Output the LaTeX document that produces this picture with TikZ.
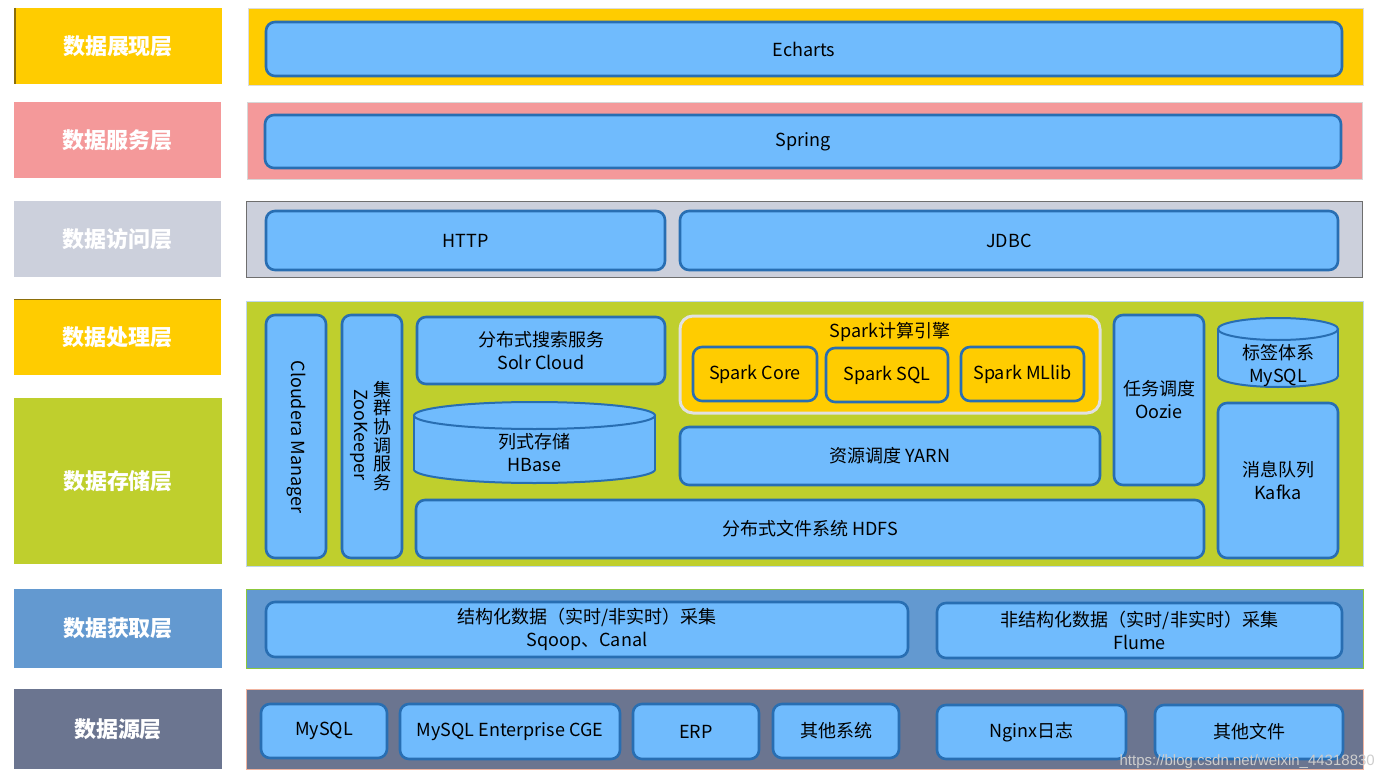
\documentclass[tikz,border=0pt]{standalone}
\usepackage{fontspec}
\setmainfont{Noto Sans CJK SC}
\newfontfamily\wmfont{Liberation Sans}
\usetikzlibrary{fit}
\definecolor{cyellow}{RGB}{255,204,0}
\definecolor{cpink}{RGB}{244,153,154}
\definecolor{cgray}{RGB}{204,208,220}
\definecolor{cgreen}{RGB}{191,207,45}
\definecolor{cblue}{RGB}{99,153,208}
\definecolor{cslate}{RGB}{107,117,144}
\definecolor{boxfill}{RGB}{112,187,253}
\definecolor{boxline}{RGB}{40,110,178}
\definecolor{sparkline}{RGB}{225,225,225}
\definecolor{wmgray}{RGB}{205,205,205}
\newcommand\blkbox[4][]{%
  \node[blk,#1,fit={#3}] (#2) {};
  \node[txt] (#2-t) at (#2.center) {#4};}
\newcommand\lyrbox[4]{%
  \node[inner sep=0pt, fill=#2, fit={#3}] (#1) {};
  \node[layerlbl] (#1-t) at (#1.center) {#4};}
\begin{document}
\begin{tikzpicture}[x=1pt,y=-1pt,
  layerlbl/.style={inner sep=0pt, text=white, font=\fontsize{22}{26}\selectfont\bfseries},
  pnl/.style={inner sep=0pt, line width=1pt},
  blk/.style={draw=boxline, fill=boxfill, line width=2.6pt, rounded corners=9pt, inner sep=0pt},
  txt/.style={inner sep=0pt, align=center, font=\fontsize{18}{23}\selectfont},
  cyl/.style={draw=boxline, fill=boxfill, line width=2pt}]
\useasboundingbox (0,0) rectangle (1377,781);
\fill[white] (0,0) rectangle (1377,781);

% left layer labels
\lyrbox{l1}{cyellow}{(14,8) (222,84)}{数据展现层}
\draw[line width=1.2pt, draw={rgb,255:red,140;green,110;blue,10}] (15,8) -- (15,84);
\lyrbox{l2}{cpink}{(14,102) (221,178)}{数据服务层}
\lyrbox{l3}{cgray}{(14,201) (221,277)}{数据访问层}
\lyrbox{l4}{cyellow}{(14,299) (221,375)}{数据处理层}
\draw[line width=1.2pt, draw={rgb,255:red,140;green,110;blue,10}] (14,299.5) -- (221,299.5);
\lyrbox{l5}{cgreen}{(14,398) (222,564)}{数据存储层}
\lyrbox{l6}{cblue}{(14,589) (222,668)}{数据获取层}
\lyrbox{l7}{cslate}{(14,689) (222,769)}{数据源层}

% right panels
\node[pnl, fill=cyellow, draw={rgb,255:red,220;green,220;blue,220}, fit={(248,8.5) (1363,85.5)}] (p1) {};
\node[pnl, fill=cpink, draw={rgb,255:red,215;green,215;blue,215}, fit={(247,103) (1362,180)}] (p2) {};
\node[pnl, fill=cgray, draw={rgb,255:red,110;green,110;blue,110}, fit={(246,201.5) (1362,277.5)}] (p3) {};
\node[pnl, fill=cgreen, draw={rgb,255:red,190;green,215;blue,235}, fit={(246,301) (1363,566.5)}] (p4) {};
\node[pnl, fill=cblue, draw={rgb,255:red,140;green,200;blue,60}, fit={(246,589.5) (1363,668.5)}] (p5) {};
\node[pnl, fill=cslate, draw={rgb,255:red,240;green,180;blue,160}, fit={(246,689.5) (1363,769.5)}] (p6) {};

% row 1-3
\blkbox{echarts}{(266,22) (1342,76)}{Echarts}
\blkbox{spring}{(265,115) (1341,168)}{Spring}
\blkbox{http}{(266,211) (665,270)}{HTTP}
\blkbox{jdbc}{(680,211) (1338,270)}{JDBC}

% row 4
\node[blk, fit={(266,315) (326,558)}] (cloudera) {};
\node[txt, rotate=-90] (clouderat) at (296,437) {Cloudera Manager};
\node[blk, fit={(342,315) (402,558)}] (zk) {};
\node[txt, rotate=-90] (zkt) at (359,435) {ZooKeeper};
\node[txt, font=\fontsize{18}{18.7}\selectfont] (zkc) at (382,436) {集\\群\\协\\调\\服\\务};
\blkbox{solr}{(417,317) (665,384)}{分布式搜索服务\\Solr Cloud}

% HBase cylinder
\draw[cyl] (534.5,469.5) ellipse[x radius=120.5pt, y radius=13.5pt];
\fill[boxfill] (414,415.5) rectangle (655,469.5);
\draw[boxline, line width=2pt] (414,415.5) -- (414,469.5) (655,415.5) -- (655,469.5);
\draw[cyl] (534.5,415.5) ellipse[x radius=120.5pt, y radius=13.5pt];
\node[txt] (hbase) at (534.5,453) {列式存储\\HBase};

\blkbox{hdfs}{(416,500) (1204,558)}{分布式文件系统 HDFS}

% Spark group
\node[inner sep=0pt, fill=cyellow, draw=sparkline, line width=3pt, rounded corners=13pt, fit={(680,316) (1100,413)}] (spark) {};
\node[txt] (sparkt) at (890,332) {Spark计算引擎};
\blkbox[fill=cyellow]{score}{(693,347) (817,401)}{Spark Core}
\blkbox[fill=cyellow]{ssql}{(826,348) (948,402)}{Spark SQL}
\blkbox[fill=cyellow]{smllib}{(961,347) (1084,401)}{Spark MLlib}
\blkbox{yarn}{(680,427) (1100,485)}{资源调度 YARN}
\blkbox{oozie}{(1114,315) (1204,485)}{任务调度\\Oozie}

% MySQL cylinder
\draw[cyl] (1278,376) ellipse[x radius=60pt, y radius=11pt];
\fill[boxfill] (1218,329) rectangle (1338,376);
\draw[boxline, line width=2pt] (1218,329) -- (1218,376) (1338,329) -- (1338,376);
\draw[cyl] (1278,329) ellipse[x radius=60pt, y radius=11pt];
\node[txt] (tagmysql) at (1278,365) {标签体系\\MySQL};

\blkbox{kafka}{(1218,403) (1338,558)}{消息队列\\Kafka}

% row 5
\blkbox{struct}{(266,602) (908,657)}{结构化数据（实时/非实时）采集\\Sqoop、Canal}
\blkbox{unstruct}{(937,603) (1342,658)}{非结构化数据（实时/非实时）采集\\Flume}

% row 6
\blkbox{s1}{(261,704) (387,758)}{MySQL}
\blkbox{s2}{(400,704) (620,759)}{MySQL Enterprise CGE}
\blkbox{s3}{(633,704) (759,759)}{ERP}
\blkbox{s4}{(773,704) (899,758)}{其他系统}
\blkbox{s5}{(937,705) (1126,759)}{Nginx日志}
\blkbox{s6}{(1155,705) (1343,759)}{其他文件}

% watermark
\node[inner sep=0pt, anchor=east, text=wmgray, font=\wmfont\fontsize{15}{15}\selectfont] (wm) at (1375,762) {https://blog.csdn.net/weixin\_44318830};
\end{tikzpicture}
\end{document}
